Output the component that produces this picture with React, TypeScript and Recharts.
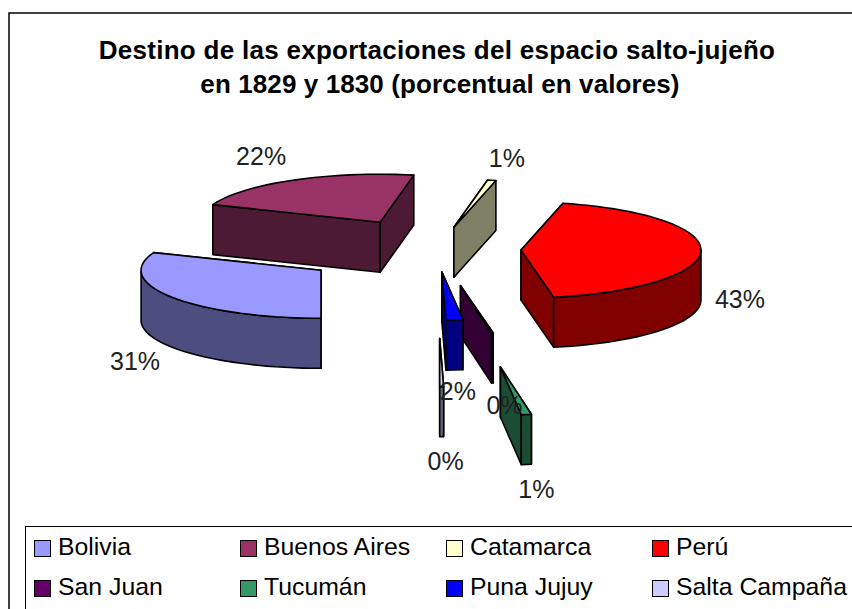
import React from 'react';
import { PieChart, Pie, Legend } from 'recharts';

const categories = ['Bolivia', 'Buenos Aires', 'Catamarca', 'Perú', 'San Juan', 'Tucumán', 'Puna Jujuy', 'Salta Campaña'];
const shares = [31, 22, 0.75, 43.34, 0.15, 0.9, 1.51, 0.35];
const topColors = ['#9999FF', '#993366', '#FFFFCC', '#FF0000', '#660066', '#339966', '#0000FF', '#CCCCFF'];
const sideColors = ['#4D4D80', '#4D1A33', '#808066', '#800000', '#330033', '#1A4D33', '#000080', '#666680'];

// how far each slice is pulled out of the pie
const explode = [139, 116, 85, 85, 138, 445, 85, 334];
const labelNudge = [[-186, 91], [-119, -66], [53, -69], [219, 49], [44, 119], [36, 122], [16, 119], [6, 122]];

const FONT = '"Liberation Sans", Arial, sans-serif';
const TILT = 0.267;
const DEPTH = 50;

const pieData = categories.map((name, i) => ({ name, value: shares[i], fill: topColors[i] }));

// recharts angle (counter-clockwise from 3 o'clock) to a point on the tilted disc
const project = (ox: number, oy: number, r: number, deg: number) => {
  const a = (deg * Math.PI) / 180;
  return [ox + r * Math.cos(a), oy - r * TILT * Math.sin(a)];
};

const apexOf = (props: any) => {
  const i = categories.indexOf(props.name);
  const mid = (props.startAngle + props.endAngle) / 2;
  return project(props.cx, props.cy, explode[i], mid);
};

const pts = (list: number[][]) => list.map(p => `${p[0].toFixed(1)},${p[1].toFixed(1)}`).join(' ');
const drop = (list: number[][]) => list.map(p => [p[0], p[1] + DEPTH]);

const Slice3D = (props: any) => {
  const { startAngle, endAngle, outerRadius } = props;
  const i = categories.indexOf(props.name);
  const [ax, ay] = apexOf(props);
  const hi = Math.max(startAngle, endAngle);
  const lo = Math.min(startAngle, endAngle);

  const arc: number[][] = [];
  const frontArc: number[][] = [];
  const steps = Math.max(2, Math.ceil((hi - lo) / 3));
  for (let s = 0; s <= steps; s++) {
    const deg = hi - ((hi - lo) * s) / steps;
    const p = project(ax, ay, outerRadius, deg);
    arc.push(p);
    // front of the disc is where sin(angle) is negative
    if (Math.sin((deg * Math.PI) / 180) <= 0.001) frontArc.push(p);
  }

  const first = arc[0];
  const last = arc[arc.length - 1];
  const walls = [
    [[ax, ay], first],
    [[ax, ay], last],
    frontArc,
  ]
    .filter(w => w.length > 1)
    .map(w => [...w, ...drop(w).reverse()])
    .sort((a, b) => {
      const avg = (w: number[][]) => w.reduce((t, p) => t + p[1], 0) / w.length;
      return avg(a) - avg(b);
    });

  return (
    <g stroke="#000" strokeWidth={1.6} strokeLinejoin="round">
      {walls.map((w, k) => (
        <polygon key={k} points={pts(w)} fill={sideColors[i]} />
      ))}
      <polygon points={pts([[ax, ay], ...arc])} fill={topColors[i]} />
    </g>
  );
};

const renderLabel = (props: any) => {
  const i = categories.indexOf(props.name);
  const [ax, ay] = apexOf(props);
  return (
    <text
      x={ax + labelNudge[i][0]}
      y={ay + labelNudge[i][1]}
      textAnchor="middle"
      dominantBaseline="central"
      fontFamily={FONT}
      fontSize={25}
      fill="#222"
    >
      {`${Math.round(props.percent * 100)}%`}
    </text>
  );
};

const renderLegend = (props: any) => (
  <div
    style={{
      position: 'absolute',
      left: 25,
      top: 526,
      width: 840,
      height: 90,
      boxSizing: 'border-box',
      border: '1.5px solid #000',
      fontFamily: FONT,
      fontSize: 24.8,
      color: '#000',
    }}
  >
    {props.payload.map((entry: any, i: number) => (
      <div
        key={entry.value}
        style={{
          position: 'absolute',
          left: 8 + (i % 4) * 206,
          top: 2 + Math.floor(i / 4) * 40,
          height: 36,
          display: 'flex',
          alignItems: 'center',
          whiteSpace: 'nowrap',
        }}
      >
        <span
          style={{
            width: 15,
            height: 15,
            marginRight: 7,
            marginTop: 3,
            border: '1.5px solid #000',
            background: entry.color,
          }}
        />
        {entry.value}
      </div>
    ))}
  </div>
);

export default function App() {
  return (
    <div style={{ position: 'absolute', left: 0, top: 0, width: 852, height: 609, overflow: 'hidden', background: '#fff' }}>
      <PieChart width={852} height={609} margin={{ top: 0, right: 0, bottom: 0, left: 0 }}>
        <rect x={9} y={13} width={860} height={610} fill="#fff" stroke="#000" strokeWidth={1.5} />
        <text x={437} y={50} textAnchor="middle" dominantBaseline="central" fontFamily={FONT} fontWeight="bold" fontSize={26} letterSpacing={0.28}>
          Destino de las exportaciones del espacio salto-jujeño
        </text>
        <text x={440} y={84} textAnchor="middle" dominantBaseline="central" fontFamily={FONT} fontWeight="bold" fontSize={26} letterSpacing={0.1}>
          en 1829 y 1830 (porcentual en valores)
        </text>
        <Pie
          data={pieData}
          dataKey="value"
          nameKey="name"
          cx={436}
          cy={249.4}
          innerRadius={0}
          outerRadius={180}
          startAngle={-90}
          endAngle={-450}
          stroke="none"
          isAnimationActive={false}
          shape={Slice3D}
          label={renderLabel}
          labelLine={false}
        />
        <Legend
          content={renderLegend}
          itemSorter={null}
          wrapperStyle={{ position: 'absolute', left: 0, top: 0, bottom: 'auto', width: 852, height: 0 }}
        />
      </PieChart>
    </div>
  );
}
